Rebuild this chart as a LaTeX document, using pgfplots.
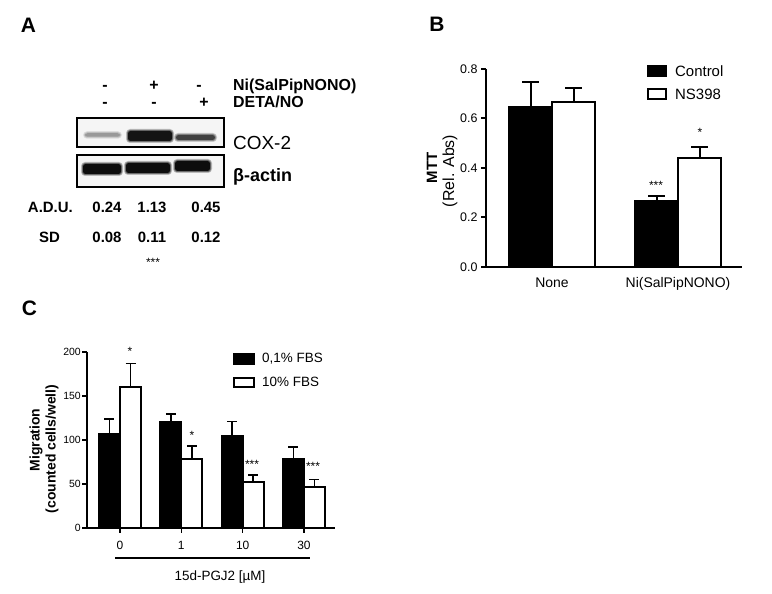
\documentclass[border=0pt]{standalone}
\usepackage{pgfplots}
\pgfplotsset{compat=1.18}
\usepackage{fontspec}
\setmainfont{Liberation Sans}
\newcommand{\fs}[1]{\fontsize{#1}{#1}\selectfont}
\newcommand{\band}[5]{%
  \fill[#5,opacity=0.25,rounded corners=4bp] (#1-2,#3-#4/2-2) rectangle (#2+2,#3+#4/2+2);
  \fill[#5,opacity=0.45,rounded corners=3bp] (#1-1,#3-#4/2-1) rectangle (#2+1,#3+#4/2+1);
  \fill[#5,rounded corners=2.5bp] (#1,#3-#4/2) rectangle (#2,#3+#4/2);}
\begin{document}
\begin{tikzpicture}[x=1bp,y=1bp]
\useasboundingbox (0,0) rectangle (772,594);
% panel letters
\node[font=\fs{21}\bfseries] at (28.5,594-25) {A};
\node[font=\fs{21}\bfseries] at (437,594-24) {B};
\node[font=\fs{21}\bfseries] at (29.5,594-308.5) {C};

% ---------------- Panel A (western blot) ----------------
\begin{scope}[font=\fs{16}\bfseries]
\node[anchor=base] at (105,594-91) {-};
\node[anchor=base] at (154,594-91) {+};
\node[anchor=base] at (199,594-91) {-};
\node[anchor=base] at (105,594-108) {-};
\node[anchor=base] at (154,594-108) {-};
\node[anchor=base] at (204,594-108) {+};
\node[anchor=base west,inner sep=0] at (233,594-91) {Ni(SalPipNONO)};
\node[anchor=base west,inner sep=0] at (233,594-108) {DETA/NO};
\end{scope}
\fill[gray!8] (77,594-147) rectangle (224,594-118);
\fill[gray!8] (77,594-187) rectangle (224,594-155);
\band{85}{120}{594-135}{3.5}{black!40}
\band{128}{172}{594-136}{10}{black!92}
\band{176}{215}{594-137.5}{5}{black!75}
\band{83}{121}{594-169}{10}{black!95}
\band{126}{170}{594-168}{10}{black!95}
\band{175}{210}{594-166}{10}{black!95}
\draw[line width=1.6bp] (77,594-147) rectangle (224,594-118);
\draw[line width=1.6bp] (77,594-187) rectangle (224,594-155);
\node[anchor=base west,inner sep=0,font=\fs{19}] at (233,594-150) {COX-2};
\node[anchor=base west,inner sep=0,font=\fs{18}\bfseries] at (233,594-182) {β-actin};
\begin{scope}[font=\fs{15}\bfseries]
\node[anchor=base east,inner sep=0] at (73,594-213) {A.D.U.};
\node[anchor=base east,inner sep=0] at (60,594-243) {SD};
\node[anchor=base] at (107,594-213) {0.24};
\node[anchor=base] at (152,594-213) {1.13};
\node[anchor=base] at (206,594-213) {0.45};
\node[anchor=base] at (107,594-243) {0.08};
\node[anchor=base] at (152,594-243) {0.11};
\node[anchor=base] at (206,594-243) {0.12};
\end{scope}
\node[font=\fs{12}] at (153,594-262) {***};

% ---------------- Panel B ----------------
\begin{axis}[
  at={(486bp,327bp)}, anchor=south west, scale only axis,
  width=256bp, height=198bp,
  xmin=-0.524, xmax=1.508, ymin=0, ymax=0.8,
  axis x line=bottom, axis y line=left,
  axis line style={line width=2bp,-},
  xtick={0,1}, xticklabels={None,Ni(SalPipNONO)},
  x tick style={draw=none},
  ytick={0,0.2,0.4,0.6,0.8},
  y tick style={line width=2bp,black},
  tick align=outside, major tick length=5bp,
  /pgf/number format/assume math mode=true,
  x tick label style={font=\fs{14},yshift=-2bp},
  y tick label style={font=\fs{12.5},/pgf/number format/fixed,/pgf/number format/fixed zerofill,/pgf/number format/precision=1},
  clip=false,
]
\addplot[ybar, bar width=43bp, bar shift=0pt, fill=black, draw=black, line width=2bp,
  error bars/.cd, y dir=plus, y explicit,
  error bar style={line width=2bp,black},
  error mark options={line width=2bp,black,mark size=8.5bp,rotate=90}]
  coordinates {(-0.1706,0.645) +- (0,0.102) (0.8294,0.265) +- (0,0.02)};
\addplot[ybar, bar width=43bp, bar shift=0pt, fill=white, draw=black, line width=2bp,
  error bars/.cd, y dir=plus, y explicit,
  error bar style={line width=2bp,black},
  error mark options={line width=2bp,black,mark size=8.5bp,rotate=90}]
  coordinates {(0.1706,0.665) +- (0,0.058) (1.1706,0.44) +- (0,0.045)};
\end{axis}
\node[rotate=90,font=\fs{15}\bfseries] at (432,594-168) {MTT};
\node[rotate=90,font=\fs{16}] at (450,594-171) {(Rel. Abs)};
\node[font=\fs{12}] at (656,594-185) {***};
\node[font=\fs{12}] at (700,594-132) {*};
% legend B
\fill[black] (647,594-77) rectangle (667,594-65);
\draw[line width=2bp,fill=white] (648,594-99) rectangle (666,594-89);
\node[anchor=west,inner sep=0,font=\fs{15}] at (675,594-71) {Control};
\node[anchor=west,inner sep=0,font=\fs{15}] at (675,594-94) {NS398};

% ---------------- Panel C ----------------
\begin{axis}[
  at={(87bp,66bp)}, anchor=south west, scale only axis,
  width=248bp, height=176bp,
  xmin=-0.538, xmax=3.506, ymin=0, ymax=200,
  axis x line=bottom, axis y line=left,
  axis line style={line width=2bp,-},
  xtick={0,1,2,3}, xticklabels={0,1,10,30},
  x tick style={line width=1.5bp,black},
  ytick={0,50,100,150,200},
  y tick style={line width=2bp,black},
  tick align=outside, major tick length=5bp,
  /pgf/number format/assume math mode=true,
  x tick label style={font=\fs{12},yshift=-5bp},
  y tick label style={font=\fs{10.5},inner sep=1bp},
  clip=false,
]
\addplot[ybar, bar width=21bp, bar shift=0pt, fill=black, draw=black, line width=2bp,
  error bars/.cd, y dir=plus, y explicit,
  error bar style={line width=1.5bp,black},
  error mark options={line width=1.5bp,black,mark size=5bp,rotate=90}]
  coordinates {(-0.1713,107) +- (0,17) (0.8287,120) +- (0,9.5) (1.8287,105) +- (0,16) (2.8287,78) +- (0,14)};
\addplot[ybar, bar width=21bp, bar shift=0pt, fill=white, draw=black, line width=2bp,
  error bars/.cd, y dir=plus, y explicit,
  error bar style={line width=1.5bp,black},
  error mark options={line width=1.5bp,black,mark size=5bp,rotate=90}]
  coordinates {(0.1713,160) +- (0,27) (1.1713,78) +- (0,15) (2.1713,52) +- (0,8) (3.1713,47) +- (0,8)};
\end{axis}
\node[rotate=90,font=\fs{14}\bfseries] at (36,594-440) {Migration};
\node[rotate=90,font=\fs{14}\bfseries] at (52,594-449) {(counted cells/well)};
\node[font=\fs{12}] at (130,594-351) {*};
\node[font=\fs{12}] at (192,594-435) {*};
\node[font=\fs{12}] at (252,594-464) {***};
\node[font=\fs{12}] at (313,594-466) {***};
\draw[line width=1.6bp] (115,594-558) -- (310,594-558);
\node[font=\fs{13.5}] at (220,594-577) {15d-PGJ2 [µM]};
% legend C
\fill[black] (233,594-365) rectangle (255,594-353);
\draw[line width=2bp,fill=white] (234,594-387) rectangle (254,594-378);
\node[anchor=west,inner sep=0,font=\fs{13.5}] at (262,594-359) {0,1\% FBS};
\node[anchor=west,inner sep=0,font=\fs{13.5}] at (262,594-382) {10\% FBS};
\end{tikzpicture}
\end{document}
